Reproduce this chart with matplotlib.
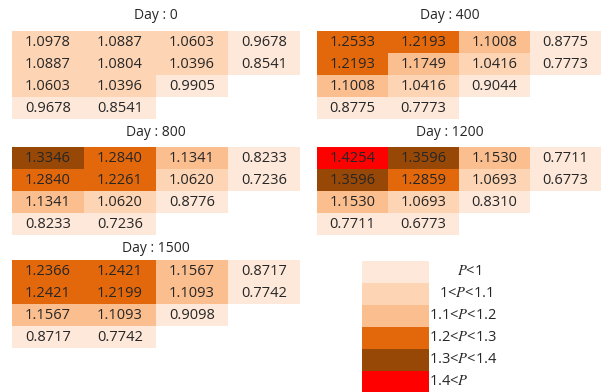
import matplotlib
matplotlib.use("Agg")
import matplotlib.pyplot as plt
from matplotlib.patches import Rectangle
import numpy as np

days = [0, 400, 800, 1200, 1500]
day0 = [[1.0978, 1.0887, 1.0603, 0.9678],
        [1.0887, 1.0804, 1.0396, 0.8541],
        [1.0603, 1.0396, 0.9905],
        [0.9678, 0.8541]]
day400 = [[1.2533, 1.2193, 1.1008, 0.8775],
          [1.2193, 1.1749, 1.0416, 0.7773],
          [1.1008, 1.0416, 0.9044],
          [0.8775, 0.7773]]
day800 = [[1.3346, 1.2840, 1.1341, 0.8233],
          [1.2840, 1.2261, 1.0620, 0.7236],
          [1.1341, 1.0620, 0.8776],
          [0.8233, 0.7236]]
day1200 = [[1.4254, 1.3596, 1.1530, 0.7711],
           [1.3596, 1.2859, 1.0693, 0.6773],
           [1.1530, 1.0693, 0.8310],
           [0.7711, 0.6773]]
day1500 = [[1.2366, 1.2421, 1.1567, 0.8717],
           [1.2421, 1.2199, 1.1093, 0.7742],
           [1.1567, 1.1093, 0.9098],
           [0.8717, 0.7742]]
tables = [day0, day400, day800, day1200, day1500]

bin_edges = [1.0, 1.1, 1.2, 1.3, 1.4]
bin_colors = ['#fde8d9', '#fdd5b5', '#fbbe8f', '#e3680b', '#974806', '#ff0000']
legend_labels = [r'$P$<1', r'1<$P$<1.1', r'1.1<$P$<1.2', r'1.2<$P$<1.3',
                 r'1.3<$P$<1.4', r'1.4<$P$']

plt.rcParams['mathtext.fontset'] = 'stix'

W, H = 601, 392
fig = plt.figure(figsize=(W / 100, H / 100), dpi=100)
ax = fig.add_axes([0, 0, 1, 1])
ax.set_xlim(0, W)
ax.set_ylim(H, 0)
ax.axis('off')

txt_color = '#262626'
font = 'Open Sans'

# layout (pixels)
panel_origin = [(12, 31), (317, 31), (12, 147), (317, 147), (12, 260)]
panel_cw = [72, 71, 72, 71, 72]
title_pos = [(156, 15), (450, 15), (156, 132), (450, 132), (156, 248)]
rh = 21.9


def color_for(v):
    idx = int(np.searchsorted(bin_edges, v))
    return bin_colors[idx]


for k, (day, tab) in enumerate(zip(days, tables)):
    x0, y0 = panel_origin[k]
    cw = panel_cw[k]
    for i, row in enumerate(tab):
        for j, v in enumerate(row):
            ax.add_patch(Rectangle((x0 + j * cw, y0 + i * rh), cw, rh,
                                   facecolor=color_for(v), edgecolor='none'))
            ax.text(x0 + (j + 0.5) * cw, y0 + (i + 0.5) * rh + 0.5, f'{v:.4f}',
                    ha='center', va='center', fontsize=10.5, color=txt_color,
                    family=font)
    tx, ty = title_pos[k]
    ax.text(tx, ty, f'Day : {day}', ha='center', va='center', fontsize=10,
            color=txt_color, family=font)

# legend
lx0, ly0, lw = 362, 261, 67
lab_x = [457, 439, 429, 429, 429, 429]
for k, (c, lab) in enumerate(zip(bin_colors, legend_labels)):
    ax.add_patch(Rectangle((lx0, ly0 + k * rh), lw, rh, facecolor=c,
                           edgecolor='none'))
    ax.text(lab_x[k], ly0 + (k + 0.5) * rh, lab, ha='left', va='center',
            fontsize=10.5, color=txt_color, family=font)

fig.savefig('out.png', dpi=100)
